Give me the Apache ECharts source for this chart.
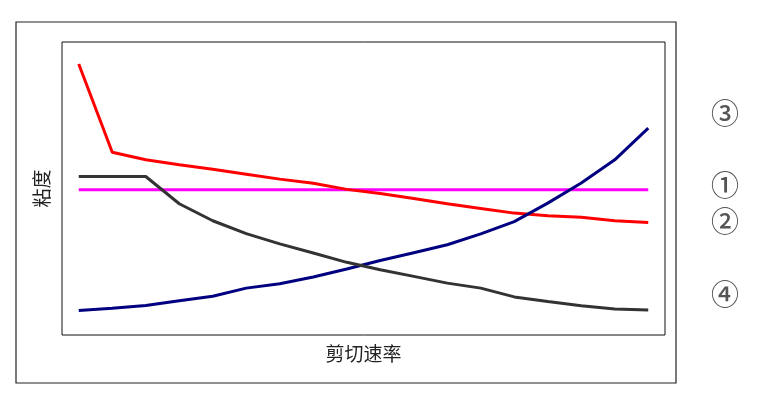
<!DOCTYPE html>
<html>
<head>
<meta charset="utf-8">
<script src="https://cdn.jsdelivr.net/npm/echarts@6/dist/echarts.min.js"></script>
<style>
html,body{margin:0;padding:0;background:#fff;}
#main{width:761px;height:407px;}
</style>
</head>
<body>
<div id="main"></div>
<script>
// 横轴: 剪切速率 (18个点, 不显示刻度)
var rates = ['1','2','3','4','5','6','7','8','9','10','11','12','13','14','15','16','17','18'];
// ① 牛顿流体
var visc1 = [49.6,49.6,49.6,49.6,49.6,49.6,49.6,49.6,49.6,49.6,49.6,49.6,49.6,49.6,49.6,49.6,49.6,49.6];
// ② 
var visc2 = [92.5,62.4,59.8,58.1,56.6,54.9,53.2,51.8,49.7,48.3,46.6,44.8,43.2,41.6,40.7,40.2,39.0,38.4];
// ③ 剪切增稠
var visc3 = [8.4,9.1,10.1,11.7,13.2,16.0,17.5,19.8,22.5,25.4,28.1,30.8,34.5,38.7,45.0,51.9,59.8,70.6];
// ④ 剪切变稀
var visc4 = [54.1,54.1,54.1,44.8,39.0,34.6,31.1,28.0,24.8,22.3,20.0,17.7,16.0,13.0,11.4,10.0,8.9,8.5];
// 右侧编号
var marks = ['③','①','②','④'];
var markY = [113,185,221,294];

var myChart = echarts.init(document.getElementById('main'));

var lineStyle = function(c){
	return {color:c,width:3};
};

var graphics = [{
	type:'rect',
	shape:{x:16,y:22,width:660,height:361},
	style:{fill:'none',stroke:'#222',lineWidth:1.2},
	silent:true
}];
for(var i=0;i<marks.length;i++){
	graphics.push({
		type:'text',
		x:725,
		y:markY[i],
		style:{
			text:marks[i],
			fill:'#555',
			font:'500 28px "Noto Sans CJK SC"',
			align:'center',
			verticalAlign:'middle'
		}
	});
}

var option = {
	animation:false,
	backgroundColor:'#fff',
	grid:{
		left:62,
		top:42,
		width:603,
		height:293,
		show:true,
		borderColor:'#111',
		borderWidth:1,
		backgroundColor:'transparent'
	},
	xAxis:{
		type:'category',
		data:rates,
		boundaryGap:true,
		name:'剪切速率',
		nameLocation:'middle',
		nameGap:9,
		nameTextStyle:{color:'#222',fontSize:19,fontFamily:'Noto Sans CJK SC'},
		axisLine:{show:false},
		axisTick:{show:false},
		axisLabel:{show:false},
		splitLine:{show:false}
	},
	yAxis:{
		type:'value',
		min:0,
		max:100,
		name:'粘度',
		nameLocation:'middle',
		nameGap:11,
		nameRotate:90,
		nameTextStyle:{color:'#222',fontSize:19,fontFamily:'Noto Sans CJK SC'},
		axisLine:{show:false},
		axisTick:{show:false},
		axisLabel:{show:false},
		splitLine:{show:false}
	},
	graphic:graphics,
	series:[
		{name:'①',type:'line',data:visc1,symbol:'none',lineStyle:lineStyle('#ff00ff'),itemStyle:{color:'#ff00ff'}},
		{name:'②',type:'line',data:visc2,symbol:'none',lineStyle:lineStyle('#ff0000'),itemStyle:{color:'#ff0000'}},
		{name:'③',type:'line',data:visc3,symbol:'none',lineStyle:lineStyle('#000080'),itemStyle:{color:'#000080'}},
		{name:'④',type:'line',data:visc4,symbol:'none',lineStyle:lineStyle('#333333'),itemStyle:{color:'#333333'}}
	]
};

myChart.setOption(option);
</script>
</body>
</html>
